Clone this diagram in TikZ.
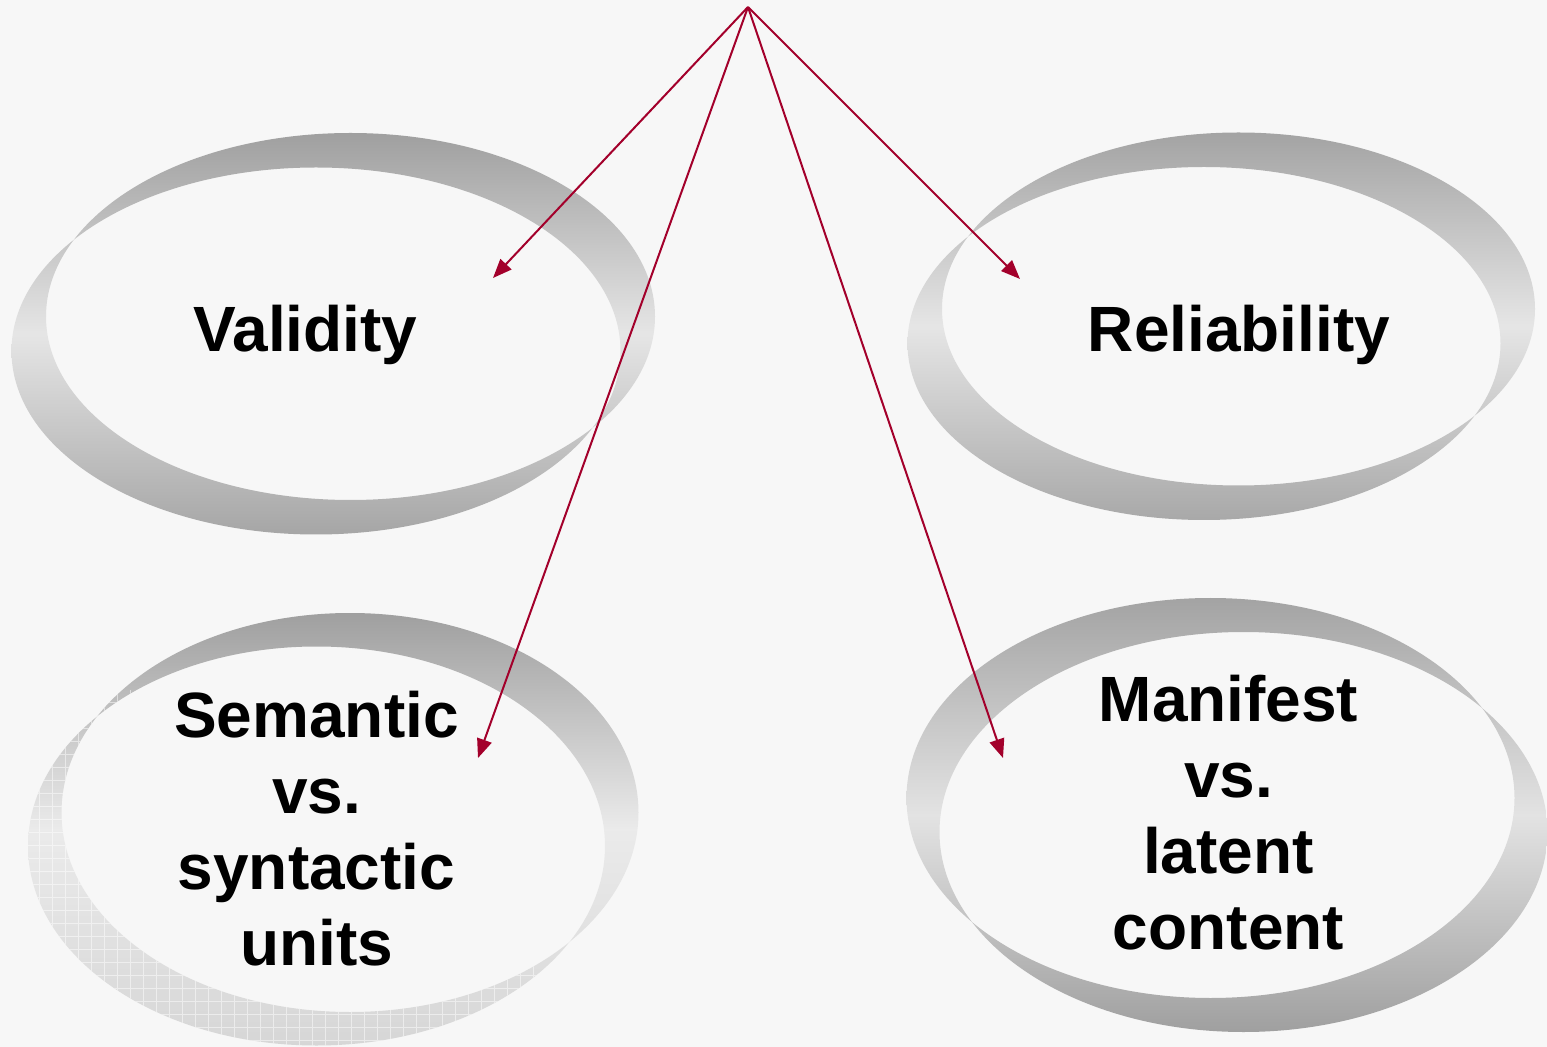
\documentclass[tikz,border=0pt]{standalone}
\usepackage{fontspec}
\setmainfont{Liberation Sans}
\usetikzlibrary{arrows.meta}

\definecolor{paper}{HTML}{F7F7F7}
\definecolor{linkred}{HTML}{A3002B}

% A ribbon ring: the two ellipses overlap and the band between them is shaded.
% #1,#2 first centre; #3,#4 second centre; #5,#6 radii; #7 top, #8 middle, #9 bottom colour
\newcommand\ribbonring[9]{%
  \shade[even odd rule, top color=#7, bottom color=#9, middle color=#8]
    (#1,#2) ellipse [x radius=#5, y radius=#6]
    (#3,#4) ellipse [x radius=#5, y radius=#6];
}

\begin{document}
\begin{tikzpicture}[x=0.5pt, y=-0.5pt,
  caption/.style={font=\fontsize{32}{38}\selectfont\bfseries, align=center,
                  text=black, inner sep=0pt},
  link/.style={draw=linkred, line width=1pt,
               -{Triangle[length=9.5pt, width=7.5pt]}}]

  % page
  \fill[paper] (0,0) rectangle (1547,1047);
  \useasboundingbox (0,0) rectangle (1547,1047);

  % rings
  \ribbonring{350.5}{316.5}{316}{351}{304.5}{183.5}{gray!75}{gray!20}{gray!70}
  \ribbonring{1238.5}{309}{1204}{343.5}{296.5}{176.5}{gray!72}{gray!20}{gray!68}
  \ribbonring{350}{812.5}{316.5}{846}{288.5}{199.5}{gray!75}{gray!16}{gray!32}
  \ribbonring{1210.5}{798}{1243.5}{832}{304}{200}{gray!72}{gray!22}{gray!75}

  % fine texture on the lower-left ring
  \begin{scope}[even odd rule]
    \clip
      (350,812.5) ellipse [x radius=288.5, y radius=199.5]
      (316.5,846) ellipse [x radius=288.5, y radius=199.5];
    \clip (0,690) -- (200,690) -- (640,1047) -- (0,1047) -- cycle;
    \draw[white, opacity=0.5, line width=0.35pt, step=6.5pt] (0,600) grid (660,1047);
  \end{scope}

  % labels
  \node[caption, anchor=base] (validity) at (305.5,352) {Validity};
  \node[caption, anchor=base] (reliability) at (1239,352) {Reliability};
  \node[caption] (units) at (316.5,829) {Semantic\\vs.\\syntactic\\units};
  \node[caption] (content) at (1228.5,813) {Manifest\\vs.\\latent\\content};

  % connectors
  \coordinate (apex) at (748,7);
  \coordinate (toValidity) at (493,278);
  \coordinate (toReliability) at (1020,279);
  \coordinate (toUnits) at (478,758);
  \coordinate (toContent) at (1003,758);
  \draw[link] (apex) -- (toValidity);
  \draw[link] (apex) -- (toReliability);
  \draw[link] (apex) -- (toUnits);
  \draw[link] (apex) -- (toContent);
\end{tikzpicture}
\end{document}
